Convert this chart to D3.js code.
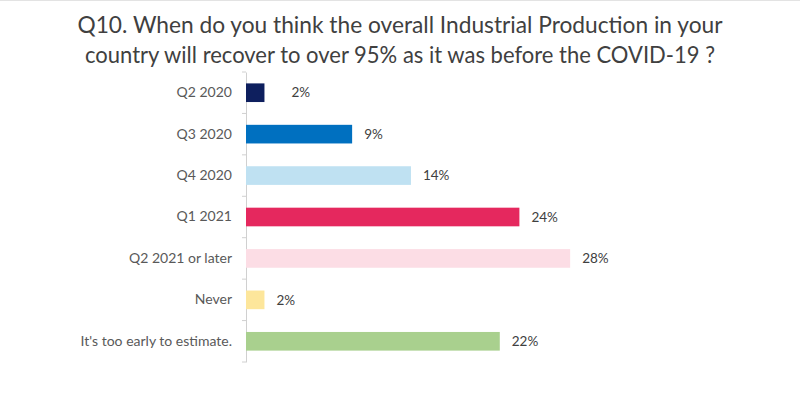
<!DOCTYPE html>
<html><head><meta charset="utf-8">
<script src="https://cdn.jsdelivr.net/npm/d3@7"></script>
<style>
html,body{margin:0;padding:0;background:#fff;}
svg{display:block;font-family:Lato,"Open Sans",sans-serif;}
</style></head>
<body><svg id="chart" width="800" height="394"></svg>
<script>
const titleLines = ["Q10. When do you think the overall Industrial Production in your",
                    "country will recover to over 95% as it was before the COVID-19 ?"];
const categories = ["Q2 2020","Q3 2020","Q4 2020","Q1 2021","Q2 2021 or later","Never","It's too early to estimate."];
const values = [1.6, 9.2, 14.3, 23.7, 28.1, 1.6, 22.0];
const valueLabels = ["2%","9%","14%","24%","28%","2%","22%"];
const colors = ["#0e1f5e","#0070c0","#bfe1f2","#e5285e","#fcdde5","#fde69b","#a9d08e"];

const svg = d3.select("#chart");
svg.append("line").attr("x1",0).attr("x2",800).attr("y1",0.5).attr("y2",0.5).attr("stroke","#e3e3e3");

const titleWidths = [645, 630];
svg.selectAll("text.title").data(titleLines).join("text")
  .attr("class","title")
  .attr("x",400).attr("y",(d,i)=>33+i*30)
  .attr("text-anchor","middle")
  .attr("font-size",22.5).attr("fill","#404040")
  .attr("textLength",(d,i)=>titleWidths[i]).attr("lengthAdjust","spacingAndGlyphs")
  .text(d=>d);

const x = d3.scaleLinear().domain([0,28]).range([246,569]);
const y = d3.scaleBand().domain(categories).range([72,362]).paddingInner(0.55).paddingOuter(0.275);

const axis = d3.axisLeft(y).tickSize(0).tickPadding(14);
const g = svg.append("g").attr("transform","translate(246,0)").call(axis);
g.select(".domain").attr("stroke","#d0d0d0");
g.selectAll(".tick text").attr("font-size",14).attr("fill","#595959").attr("font-family","Lato,'Open Sans',sans-serif");

// category boundary ticks
const bounds = d3.range(categories.length+1).map(i=>72 + i*(290/categories.length));
svg.selectAll("line.bt").data(bounds).join("line").attr("class","bt")
  .attr("x1",242).attr("x2",246).attr("y1",d=>d).attr("y2",d=>d)
  .attr("stroke","#d0d0d0");

svg.selectAll("rect.bar").data(categories).join("rect").attr("class","bar")
  .attr("x",x(0)).attr("y",d=>y(d))
  .attr("width",(d,i)=>x(values[i])-x(0))
  .attr("height",y.bandwidth())
  .attr("fill",(d,i)=>colors[i]);

svg.selectAll("text.val").data(categories).join("text").attr("class","val")
  .attr("x",(d,i)=>x(values[i]) + (i===0?27:12))
  .attr("y",d=>y(d)+y.bandwidth()/2)
  .attr("dy","0.35em")
  .attr("font-size",13.5).attr("fill","#404040")
  .text((d,i)=>valueLabels[i]);
</script></body></html>
